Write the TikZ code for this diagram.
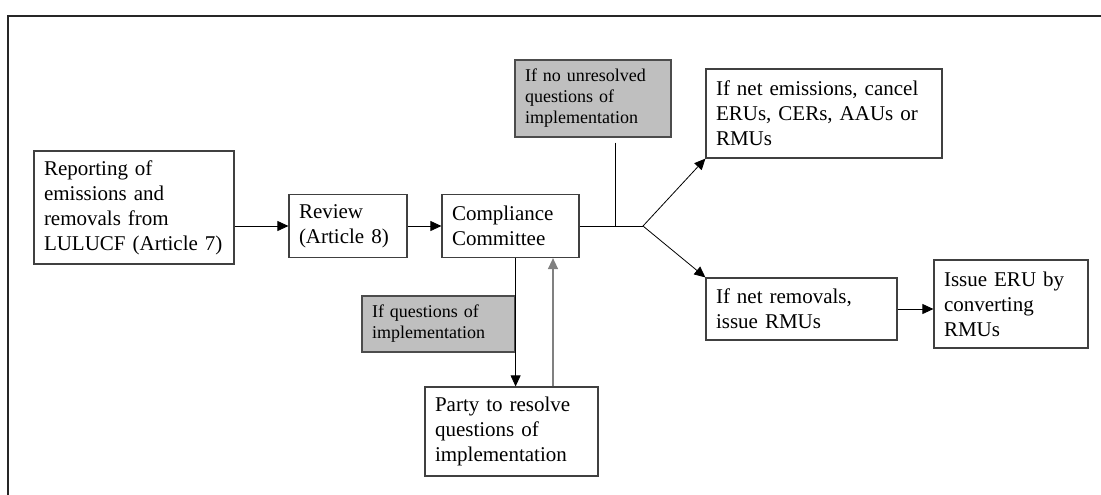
\documentclass[tikz,border=0pt]{standalone}
\usepackage{fontspec}
\setmainfont{Liberation Serif}
\usetikzlibrary{positioning,arrows.meta}

\begin{document}
\begin{tikzpicture}[x=0.5pt, y=-0.5pt, >={Triangle[length=5.5pt,width=5pt]},
  every node/.style={align=left, inner xsep=5pt, inner ysep=0pt},
  box/.style={draw=black!75, line width=0.6pt, fill=white, font=\fontsize{10.5}{12.5}\selectfont},
  cond/.style={draw=black!70, line width=0.6pt, fill=black!25, font=\fontsize{9}{10.5}\selectfont}]
\useasboundingbox (0,0) rectangle (1101,494);
\draw[line width=1.1pt, black!85] (8,520) -- (8,16) -- (1130,16);

\node[box, text width=90pt, minimum height=56.5pt] (rep) at (134,207.5) {Reporting of\\emissions and\\removals from\\LULUCF (Article 7)};
\node[box, text width=49pt, minimum height=31.5pt] (rev) at (348,226) {Review\\(Article 8)};
\node[box, text width=58.5pt, minimum height=31.5pt] (cc) at (510.5,226) {Compliance\\Committee};
\node[box, text width=108pt, minimum height=44.5pt] (emis) at (824,113.5) {If net emissions, cancel\\ERUs, CERs, AAUs or\\RMUs};
\node[box, text width=85.5pt, minimum height=31pt] (remv) at (801.5,309) {If net removals,\\issue RMUs};
\node[box, text width=67pt, minimum height=44pt] (eru) at (1011,304) {Issue ERU by\\converting\\RMUs};
\node[box, text width=76.5pt, minimum height=44.5pt] (party) at (511.5,431.5) {Party to resolve\\questions of\\implementation};
\node[cond, text width=68pt, minimum height=38.5pt] (noq) at (593,98.5) {If no unresolved\\questions of\\implementation};
\node[cond, text width=66.5pt, minimum height=28pt] (ifq) at (438.5,324) {If questions of\\implementation};

\coordinate (tap) at (615,226);
\coordinate (fork) at (643,226);

\draw[->] (rep.east |- rev.west) -- (rev.west);
\draw[->] (rev.east) -- (cc.west);
\draw (cc.east) -- (fork);
\draw[shorten <=2.5pt] (noq.south -| tap) -- (tap);
\draw[->] (fork) -- (emis.south west);
\draw[->] (fork) -- (remv.north west);
\draw[->] (remv.east) -- (remv.east -| eru.west);
\draw[->] (cc.south -| ifq.east) -- (party.north -| ifq.east);
\draw[->, black!50, line width=0.7pt] ([xshift=20.75pt]party.north) -- ([xshift=20.75pt]party.north |- cc.south);
\end{tikzpicture}
\end{document}
